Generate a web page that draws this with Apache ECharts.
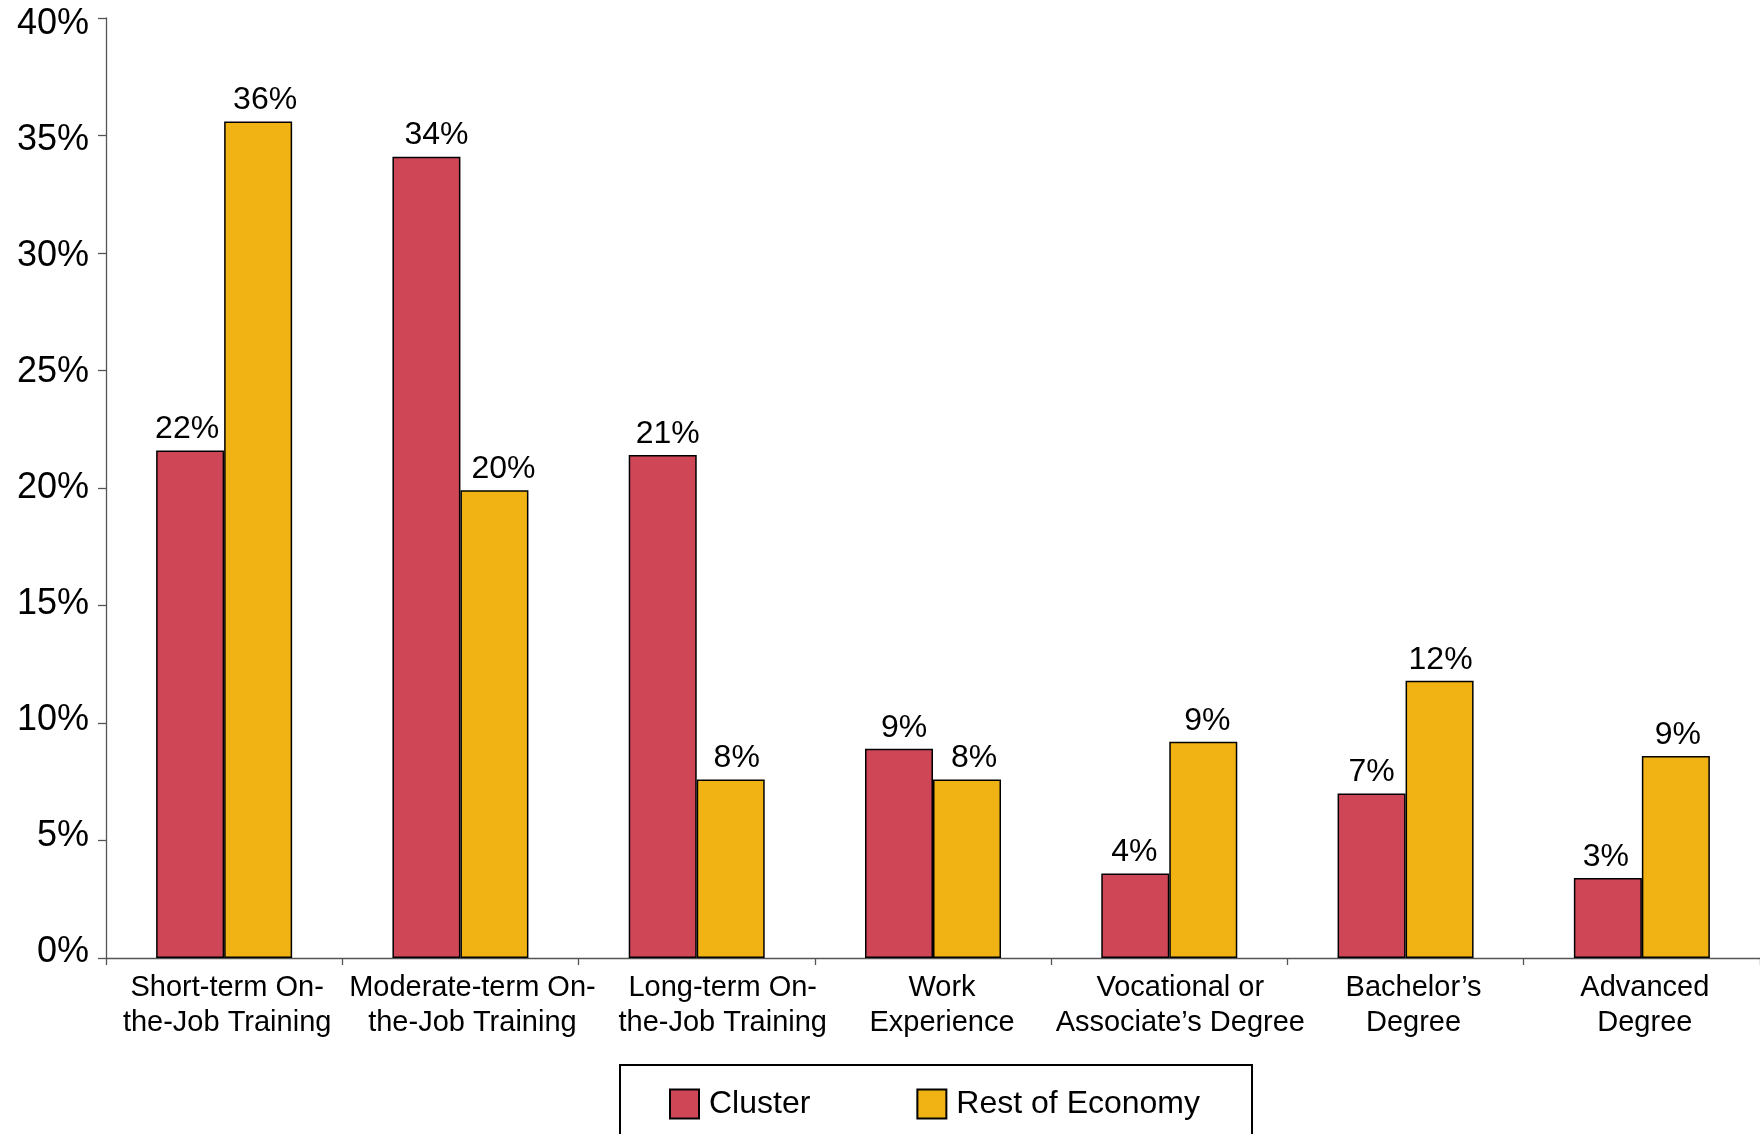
<!DOCTYPE html>
<html>
<head>
<meta charset="utf-8">
<style>
  html, body { margin: 0; padding: 0; background: #ffffff; }
  #chart { width: 1760px; height: 1134px; }
</style>
<script src="https://cdn.jsdelivr.net/npm/echarts@6/dist/echarts.min.js"></script>
</head>
<body>
<div id="chart"></div>
<script>
// Education and training requirements: share of jobs, cluster vs. rest of economy
const categories = [
  'Short-term On-\nthe-Job Training',
  'Moderate-term On-\nthe-Job Training',
  'Long-term On-\nthe-Job Training',
  'Work\nExperience',
  'Vocational or\nAssociate\u2019s Degree',
  'Bachelor\u2019s\nDegree',
  'Advanced\nDegree'
];
const clusterValues = [21.6, 34.1, 21.4, 8.9, 3.6, 7.0, 3.4];
const restOfEconomyValues = [35.6, 19.9, 7.6, 7.6, 9.2, 11.8, 8.6];
const seriesNames = ['Cluster', 'Rest of Economy'];
const yTickValues = [0, 5, 10, 15, 20, 25, 30, 35, 40];

const FONT = "'Liberation Sans', Arial, Helvetica, sans-serif";
const RED = '#CF4656';
const GOLD = '#F0B313';

// Horizontal nudges (px) for category labels and value labels
const categoryLabelDx = [3, 12, 26, 9, 11, 8, 3];
const clusterLabelDx = [-3, 10, 5, 5, -1, 0, -2];
const restLabelDx = [7, 9, 6, 7, 4, 1, 2];

const yMin = yTickValues[0];
const yMax = yTickValues[yTickValues.length - 1];
const yStep = yTickValues[1] - yTickValues[0];

// Value-axis labels sit a touch closer together than their ticks:
// nudge each one toward the middle of the axis.
const yLabelRich = {};
yTickValues.forEach(v => {
  const d = Math.round((v - (yMin + yMax) / 2) * 0.3);
  yLabelRich['t' + v] = {
    fontFamily: FONT, fontSize: 36, color: '#000000',
    padding: d >= 0 ? [2 * d, 0, 0, 0] : [0, 0, -2 * d, 0]
  };
});

// Category labels: one rich style per category carrying its nudge
const xLabelRich = {};
categories.forEach((c, i) => {
  const dx = categoryLabelDx[i];
  xLabelRich['c' + i] = {
    fontFamily: FONT, fontSize: 29, lineHeight: 35, color: '#000000',
    align: 'center',
    padding: dx >= 0 ? [0, 0, 0, 2 * dx] : [0, -2 * dx, 0, 0]
  };
});

const chart = echarts.init(document.getElementById('chart'), null, { renderer: 'canvas' });

const pctLabel = p => Math.round(p.value) + '%';
const withLabelDx = (values, dxs) =>
  values.map((v, i) => ({ value: v, label: { offset: [dxs[i], 0] } }));

chart.setOption({
  animation: false,
  backgroundColor: '#ffffff',
  textStyle: { fontFamily: FONT },
  grid: { left: 106, right: 0, top: 18, bottom: 176, containLabel: false },
  legend: {
    data: seriesNames,
    left: 620,
    top: 1065,
    orient: 'horizontal',
    padding: [23, 52, 60, 49],
    borderColor: '#000000',
    borderWidth: 2,
    icon: 'rect',
    itemWidth: 29,
    itemHeight: 29,
    itemGap: 106,
    itemStyle: { borderColor: '#000000', borderWidth: 2 },
    textStyle: { fontFamily: FONT, fontSize: 32, color: '#000000', padding: [16, 0, 0, 5] },
    selectedMode: false
  },
  xAxis: {
    type: 'category',
    data: categories,
    axisLine: { lineStyle: { color: '#555555', width: 1.3 } },
    axisTick: { show: true, length: 7, lineStyle: { color: '#555555', width: 1.3 } },
    axisLabel: {
      fontFamily: FONT, fontSize: 29, lineHeight: 35, color: '#000000',
      margin: 12, interval: 0,
      formatter: (val, idx) => val.split('\n').map(line => '{c' + idx + '|' + line + '}').join('\n'),
      rich: xLabelRich
    },
    splitLine: { show: false }
  },
  yAxis: {
    type: 'value',
    min: yMin,
    max: yMax,
    interval: yStep,
    axisLine: { show: true, lineStyle: { color: '#555555', width: 1.3 } },
    axisTick: { show: true, length: 8, lineStyle: { color: '#555555', width: 1.3 } },
    axisLabel: {
      fontFamily: FONT, fontSize: 36, color: '#000000', margin: 17,
      formatter: v => '{t' + v + '|' + v + '%}',
      rich: yLabelRich
    },
    splitLine: { show: false }
  },
  series: [
    {
      name: seriesNames[0],
      type: 'bar',
      data: withLabelDx(clusterValues, clusterLabelDx),
      barWidth: 68,
      barGap: '0%',
      itemStyle: { color: RED, borderColor: '#000000', borderWidth: 1.5 },
      label: {
        show: true, position: 'top', distance: 5,
        fontFamily: FONT, fontSize: 32, color: '#000000',
        formatter: pctLabel
      }
    },
    {
      name: seriesNames[1],
      type: 'bar',
      data: withLabelDx(restOfEconomyValues, restLabelDx),
      barWidth: 68,
      barGap: '0%',
      itemStyle: { color: GOLD, borderColor: '#000000', borderWidth: 1.5 },
      label: {
        show: true, position: 'top', distance: 5,
        fontFamily: FONT, fontSize: 32, color: '#000000',
        formatter: pctLabel
      }
    }
  ]
});
</script>
</body>
</html>
